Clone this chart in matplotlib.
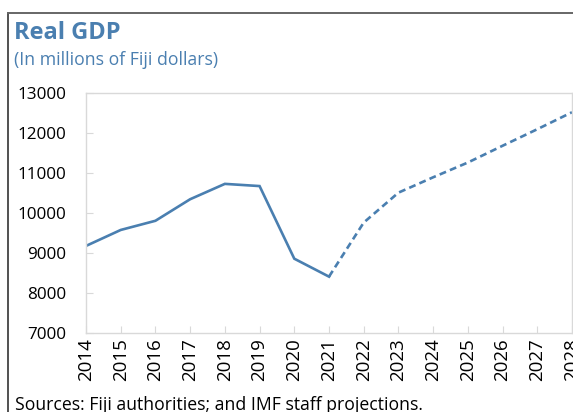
import matplotlib
matplotlib.use("Agg")
import matplotlib.pyplot as plt
from matplotlib.lines import Line2D

plt.rcParams["font.family"] = ["Open Sans", "DejaVu Sans"]

# ── Data ─────────────────────────────────────────────────────────────
hist_years = [2014, 2015, 2016, 2017, 2018, 2019, 2020, 2021]
hist_gdp   = [9175, 9575, 9805, 10345, 10730, 10675, 8855, 8405]
proj_years = [2021, 2022, 2023, 2024, 2025, 2026, 2027, 2028]
proj_gdp   = [8405, 9760, 10510, 10895, 11265, 11685, 12100, 12525]
x_ticks    = list(range(2014, 2029))
y_ticks    = [7000, 8000, 9000, 10000, 11000, 12000, 13000]

BLUE = "#4a7fb0"
GREY = "#d9d9d9"
W, H = 573, 412

fig = plt.figure(figsize=(W / 100, H / 100), dpi=100)
ax = fig.add_axes([86 / W, 1 - 332.7 / H, (572 - 86) / W, (332.7 - 93.3) / H])

ax.plot(hist_years, hist_gdp, color=BLUE, lw=1.9, solid_joinstyle="miter")
ax.plot(proj_years, proj_gdp, color=BLUE, lw=1.9, dashes=(2.6, 1.6))

ax.set_xlim(2014, 2028)
ax.set_ylim(7000, 13000)
ax.set_xticks(x_ticks)
ax.set_xticklabels([str(y) for y in x_ticks], rotation=90, fontsize=13.5)
ax.set_yticks(y_ticks)
ax.set_yticklabels([str(v) for v in y_ticks], fontsize=12.3)

ax.tick_params(axis="x", direction="in", length=5, color=GREY, pad=4)
ax.tick_params(axis="y", direction="in", length=5, color=GREY, pad=14)
for s in ax.spines.values():
    s.set_color(GREY)
    s.set_linewidth(1.0)

# ── Titles and notes ─────────────────────────────────────────────────
fig.text(14 / W, 1 - 21 / H, "Real GDP", color=BLUE, fontsize=17,
         fontweight="bold", va="top", ha="left")
fig.text(14 / W, 1 - 51 / H, "(In millions of Fiji dollars)", color=BLUE,
         fontsize=12.7, va="top", ha="left")
fig.text(15 / W, 1 - 396 / H, "Sources: Fiji authorities; and IMF staff projections.",
         color="black", fontsize=12.7, va="top", ha="left")

# ── Outer frame (left + top) ─────────────────────────────────────────
fig.add_artist(Line2D([8 / W, 8 / W], [0, 1 - 13 / H], color="#333333", lw=1.2))
fig.add_artist(Line2D([8 / W, 1], [1 - 13 / H, 1 - 13 / H], color="#666666", lw=1.4))

fig.savefig("out.png", dpi=100)
